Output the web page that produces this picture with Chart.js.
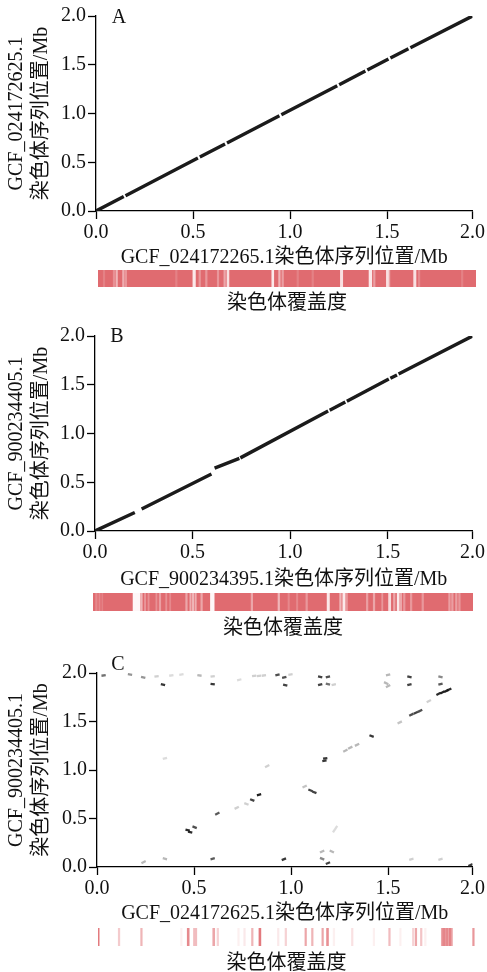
<!DOCTYPE html>
<html><head><meta charset="utf-8">
<script src="https://cdn.jsdelivr.net/npm/chart.js@4/dist/chart.umd.min.js"></script>
<style>
html,body{margin:0;padding:0;background:#fff;}
body{width:487px;height:972px;position:relative;overflow:hidden;}
canvas{position:absolute;left:0;}
</style></head><body>
<canvas id="dotA"></canvas><canvas id="covA"></canvas>
<canvas id="dotB"></canvas><canvas id="covB"></canvas>
<canvas id="dotC"></canvas><canvas id="covC"></canvas>
<script>
// ---------------- DATA ----------------
const xTickLabels = ['0.0','0.5','1.0','1.5','2.0'];
const yTickVals = [0, 0.5, 1.0, 1.5, 2.0];
const yTickLabels = ['0.0','0.5','1.0','1.5','2.0'];
const xTickValsA = [0, 0.5, 1.0, 1.5, 1.94];
const xTickValsB = [0, 0.5, 1.0, 1.5, 1.935];
const xTickValsC = [0, 0.5, 1.0, 1.5, 1.935];

const xTitleA = 'GCF_024172265.1染色体序列位置/Mb';
const yTitleA = ['GCF_024172625.1', '染色体序列位置/Mb'];
const xTitleB = 'GCF_900234395.1染色体序列位置/Mb';
const yTitleB = ['GCF_900234405.1', '染色体序列位置/Mb'];
const xTitleC = 'GCF_024172625.1染色体序列位置/Mb';
const yTitleC = ['GCF_900234405.1', '染色体序列位置/Mb'];
const coverageTitle = '染色体覆盖度';

// alignment segments [x1, y1, x2, y2] (Mb)
const segA = [
  [0, 0, 0.143, 0.148], [0.152, 0.157, 0.525, 0.543], [0.535, 0.553, 0.665, 0.688],
  [0.675, 0.698, 0.945, 0.977], [0.955, 0.988, 1.243, 1.285], [1.253, 1.296, 1.388, 1.435],
  [1.398, 1.446, 1.507, 1.558], [1.517, 1.569, 1.61, 1.665], [1.62, 1.675, 1.94, 2.0]
];
const segB = [
  [0, 0, 0.204, 0.19], [0.239, 0.225, 0.597, 0.585], [0.613, 0.645, 0.74, 0.745],
  [0.745, 0.75, 1.195, 1.23], [1.203, 1.238, 1.283, 1.322], [1.291, 1.33, 1.506, 1.558],
  [1.514, 1.566, 1.548, 1.6], [1.556, 1.61, 1.935, 2.0]
];
// panel C: short alignment hits - centre x, centre y, slope, identity shade
const hitX = [0.034,0.17,0.238,0.307,0.383,0.435,0.528,0.596,0.733,0.81,0.835,0.86,0.93,0.965,0.997,1.15,1.19,1.5,1.61,1.77,
  0.34,0.596,0.97,1.15,1.19,1.22,1.49,1.50,1.61,1.77,
  1.76,1.78,1.80,1.815,1.71,1.62,1.643,1.665,1.56,1.415,1.28,1.305,1.34,1.176,1.172,0.877,1.07,1.10,1.12,0.835,0.80,0.77,0.72,0.62,0.503,0.467,0.48,1.227,0.35,
  0.24,0.35,0.596,0.963,1.16,1.21,1.16,1.19,1.62,1.77,1.925];
const hitY = [1.975,1.985,1.955,1.965,1.975,1.985,1.975,1.965,1.93,1.97,1.97,1.975,1.98,1.955,1.985,1.96,1.96,1.98,1.96,1.96,
  1.88,1.885,1.875,1.88,1.885,1.88,1.895,1.865,1.88,1.885,
  1.785,1.80,1.815,1.83,1.71,1.57,1.59,1.61,1.49,1.35,1.20,1.23,1.26,1.12,1.095,1.04,0.83,0.79,0.77,0.745,0.69,0.65,0.61,0.55,0.41,0.38,0.36,0.39,1.12,
  0.05,0.085,0.085,0.08,0.16,0.16,0.085,0.04,0.08,0.08,0.02];
const hitSlope = [0.3,-0.3,-0.5,0.3,0.3,0.3,-0.3,0.3,0.5,0.3,0.3,0.3,0.5,0.5,0.3,-0.5,0.5,0.5,-0.5,-0.5,
  -0.5,-0.3,-0.5,0.5,-0.5,0.5,-1,1,0.5,0.5,
  1,1,1,1,1,1,1,1,1,-0.8,1,1,1,0.3,0.3,1,1,-0.8,-0.8,0.5,-0.8,-0.8,1,1,-0.8,-0.5,-0.5,3,0.5,
  1,-0.5,0.5,0.8,1,-1,-0.8,0.8,0.5,0.5,1];
const hitShade = [0.6,0.45,0.45,0.2,0.15,0.15,0.3,0.2,0.15,0.2,0.2,0.2,0.75,0.75,0.2,0.8,0.75,0.3,0.8,0.5,
  0.85,0.85,0.8,0.8,0.6,0.2,0.3,0.3,0.8,0.7,
  0.9,0.95,0.95,0.9,0.2,0.75,0.8,0.75,0.25,0.85,0.3,0.3,0.3,0.85,0.85,0.2,0.25,0.8,0.8,0.95,0.8,0.2,0.2,0.7,0.75,0.9,0.9,0.15,0.15,
  0.3,0.3,0.7,0.85,0.3,0.3,0.5,0.8,0.2,0.2,0.85];

// coverage stripes [start, end, level] (Mb). A/B: uncovered fraction, C: covered fraction
const covA = [[0.027,0.035,0.15],[0.078,0.086,0.25],[0.092,0.1,0.5],[0.126,0.134,0.45],[0.139,0.147,0.3],[0.398,0.406,0.15],
  [0.487,0.5,0.85],[0.518,0.526,0.3],[0.552,0.56,0.3],[0.612,0.62,0.3],[0.646,0.654,0.4],[0.662,0.672,0.8],
  [0.892,0.902,0.85],[0.927,0.935,0.5],[0.944,0.952,0.35],[1.021,1.029,0.15],[1.098,1.106,0.15],[1.244,1.256,0.8],
  [1.391,1.405,0.85],[1.414,1.422,0.35],[1.48,1.49,0.8],[1.49,1.498,0.4],[1.62,1.632,0.8],[1.644,1.652,0.2],[1.865,1.873,0.15]];
const covB = [[0.013,0.021,0.2],[0.03,0.036,0.2],[0.045,0.05,0.15],[0.204,0.239,0.95],[0.243,0.251,0.5],[0.262,0.268,0.3],
  [0.28,0.286,0.25],[0.32,0.326,0.25],[0.337,0.345,0.35],[0.37,0.376,0.25],[0.39,0.396,0.2],[0.472,0.48,0.4],
  [0.493,0.5,0.45],[0.506,0.513,0.5],[0.519,0.526,0.45],[0.549,0.557,0.4],[0.598,0.617,0.95],[0.805,0.813,0.4],
  [0.942,0.95,0.5],[0.993,1.0,0.2],[1.036,1.043,0.2],[1.084,1.092,0.3],[1.192,1.204,0.85],[1.256,1.264,0.5],
  [1.272,1.284,0.85],[1.29,1.296,0.3],[1.392,1.4,0.35],[1.427,1.435,0.4],[1.47,1.476,0.3],[1.505,1.516,0.75],
  [1.53,1.538,0.4],[1.549,1.559,0.85],[1.564,1.572,0.4],[1.581,1.589,0.3],[1.616,1.624,0.3],[1.675,1.683,0.3],
  [1.811,1.819,0.35],[1.826,1.834,0.35],[1.846,1.854,0.35],[1.862,1.87,0.3]];
const covC = [[0.0,0.006,0.9],[0.104,0.112,0.35],[0.219,0.227,0.5],[0.424,0.432,0.1],[0.458,0.468,0.8],[0.49,0.507,0.45],
  [0.589,0.599,0.6],[0.611,0.619,0.3],[0.717,0.725,0.1],[0.748,0.756,0.15],[0.788,0.796,0.5],[0.826,0.836,0.9],
  [0.921,0.929,0.15],[0.96,0.968,0.3],[1.062,1.07,0.6],[1.096,1.104,0.5],[1.149,1.157,0.6],[1.173,1.183,0.75],
  [1.207,1.215,0.1],[1.301,1.309,0.2],[1.412,1.42,0.1],[1.492,1.5,0.45],[1.548,1.556,0.1],[1.614,1.622,0.3],
  [1.628,1.636,0.6],[1.655,1.663,0.4],[1.676,1.684,0.1],[1.762,1.77,0.6],[1.77,1.778,0.8],[1.778,1.786,0.6],
  [1.786,1.794,0.75],[1.794,1.802,0.55],[1.802,1.812,0.8],[1.812,1.82,0.5],[1.923,1.931,0.7]];

// ---------------- STYLE / LAYOUT ----------------
const FAMILY = "'Liberation Serif', 'Noto Sans CJK SC', serif";
const TXT = '#111';
const RED = 'rgb(224,107,112)';
const W = 487;
const TOPM = 26;

const panelLetter = {
  id: 'panelLetter',
  afterDraw(chart, args, o) {
    const {ctx, chartArea} = chart;
    ctx.save();
    ctx.font = '20px ' + FAMILY;
    ctx.fillStyle = TXT;
    ctx.textAlign = 'center';
    ctx.textBaseline = 'middle';
    ctx.fillText(o.text, chartArea.left + o.dx, chartArea.top + o.dy);
    ctx.restore();
  }
};

function segData(segs) {
  const d = [];
  segs.forEach(s => { d.push({x: s[0], y: s[1]}, {x: s[2], y: s[3]}, {x: s[2], y: null}); });
  return d;
}

function axisCommon() {
  return {
    grid: {display: true, drawOnChartArea: false, drawTicks: true, tickLength: 8, tickWidth: 1.3, tickColor: '#000'},
    border: {display: true, color: '#000', width: 1.3},
  };
}

function makeDot(id, P, datasets) {
  const cv = document.getElementById(id);
  const top = P.areaTop - TOPM;
  const H = P.xTitleY + 14 - top;
  cv.width = W; cv.height = H; cv.style.top = top + 'px';
  new Chart(cv.getContext('2d'), {
    type: 'scatter',
    data: {datasets},
    options: {
      responsive: false, animation: false, events: [],
      layout: {padding: {left: 0, top: TOPM, right: W - P.right, bottom: 0}},
      scales: {
        x: Object.assign(axisCommon(), {
          type: 'linear', min: 0, max: P.xTicks[P.xTicks.length - 1],
          afterBuildTicks(s) { s.ticks = P.xTicks.map(v => ({value: v})); },
          afterFit(s) { s.height = H - (P.areaBottom - top); },
          ticks: {callback: (v, i) => xTickLabels[i], maxRotation: 0, minRotation: 0, autoSkip: false, padding: 2,
                  color: TXT, font: {family: FAMILY, size: 20}},
          title: {display: true, text: P.xTitle, color: TXT, font: {family: FAMILY, size: 20, lineHeight: 1.2},
                  padding: {top: 0, bottom: 1}}
        }),
        y: Object.assign(axisCommon(), {
          type: 'linear', min: 0, max: 2,
          afterBuildTicks(s) { s.ticks = yTickVals.map(v => ({value: v})); },
          afterFit(s) { s.width = P.left; },
          ticks: {callback: (v, i) => yTickLabels[i], padding: 2, color: TXT, font: {family: FAMILY, size: 20}},
          title: {display: true, text: P.yTitle, color: TXT, font: {family: FAMILY, size: 20, lineHeight: 1.22},
                  padding: {top: 5, bottom: 0}}
        })
      },
      plugins: {legend: {display: false}, tooltip: {enabled: false},
                panelLetter: {text: P.letter, dx: P.letterDx, dy: P.letterDy}}
    },
    plugins: [panelLetter]
  });
}

function makeCov(id, P, stripes, hasBase) {
  const cv = document.getElementById(id);
  const top = P.barTop - 4;
  const H = P.labelY + 14 - top;
  cv.width = W; cv.height = H; cv.style.top = top + 'px';
  const xMax = P.xTicks[P.xTicks.length - 1];
  const data = [], colors = [];
  if (hasBase) { data.push({y: 'c', x: [0, xMax]}); colors.push(RED); }
  stripes.forEach(s => {
    data.push({y: 'c', x: [s[0], s[1]]});
    colors.push(hasBase ? `rgba(255,255,255,${s[2]})` : `rgba(224,107,112,${s[2]})`);
  });
  const pt = P.labelY - P.barBottom - 12;
  new Chart(cv.getContext('2d'), {
    type: 'bar',
    data: {labels: ['c'], datasets: [{data, backgroundColor: colors, borderWidth: 0, barPercentage: 1,
            categoryPercentage: 1, grouped: false}]},
    options: {
      indexAxis: 'y', responsive: false, animation: false, events: [],
      layout: {padding: {left: P.barLeft, right: W - P.barRight, top: 4, bottom: 0}},
      scales: {x: {type: 'linear', min: 0, max: xMax, display: false},
               y: {type: 'category', display: false}},
      plugins: {legend: {display: false}, tooltip: {enabled: false},
                title: {display: true, position: 'bottom', text: coverageTitle, color: TXT,
                        font: {family: FAMILY, size: 20, weight: 'normal', lineHeight: 1.2},
                        padding: {top: pt, bottom: 2}}}
    }
  });
}

const PA = {areaTop: 16, areaBottom: 211, left: 96, right: 474, xTitleY: 257, barTop: 270, barBottom: 287,
            barLeft: 98, barRight: 476, labelY: 304, letter: 'A', letterDx: 23, letterDy: 2,
            xTicks: xTickValsA, xTitle: xTitleA, yTitle: yTitleA};
const PB = {areaTop: 336, areaBottom: 531, left: 95, right: 473, xTitleY: 579, barTop: 593, barBottom: 611,
            barLeft: 93, barRight: 473, labelY: 629, letter: 'B', letterDx: 22, letterDy: 1,
            xTicks: xTickValsB, xTitle: xTitleB, yTitle: yTitleB};
const PC = {areaTop: 673, areaBottom: 867, left: 97, right: 475, xTitleY: 913, barTop: 928, barBottom: 946,
            barLeft: 98, barRight: 475, labelY: 964, letter: 'C', letterDx: 21, letterDy: -8,
            xTicks: xTickValsC, xTitle: xTitleC, yTitle: yTitleC};

const lineStyle = {showLine: true, borderColor: '#1b1b1b', borderWidth: 3.4, pointRadius: 0, spanGaps: false,
                   borderCapStyle: 'butt'};
makeDot('dotA', PA, [Object.assign({data: segData(segA)}, lineStyle)]);
makeDot('dotB', PB, [Object.assign({data: segData(segB)}, lineStyle)]);

const HALF = 0.011;
const hitSets = hitX.map((x, i) => ({
  data: [{x: x - HALF, y: hitY[i] - HALF * hitSlope[i]}, {x: x + HALF, y: hitY[i] + HALF * hitSlope[i]}],
  showLine: true, pointRadius: 0, borderWidth: 2.3, borderCapStyle: 'butt',
  borderColor: `rgba(20,20,20,${hitShade[i]})`
}));
makeDot('dotC', PC, hitSets);

makeCov('covA', PA, covA, true);
makeCov('covB', PB, covB, true);
makeCov('covC', PC, covC, false);
</script>
</body></html>
